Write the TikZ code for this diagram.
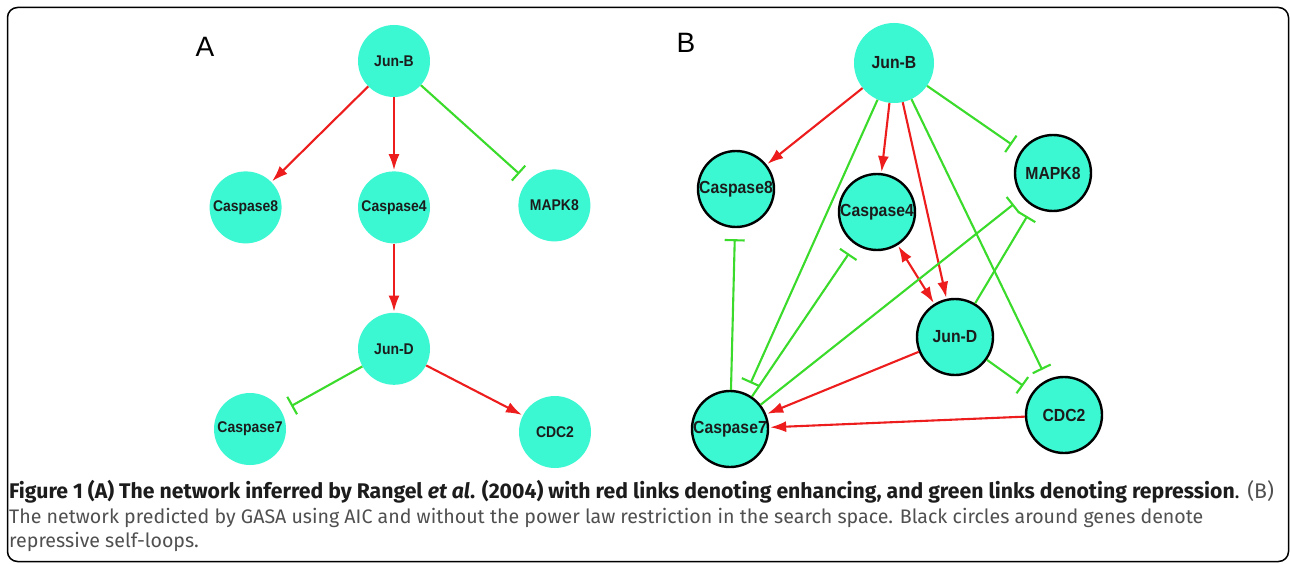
\documentclass[tikz,border=0pt]{standalone}
\usepackage{fontspec}
\setmainfont{Fira Sans}
\newfontfamily\genefont[FakeStretch=0.9]{Liberation Sans}
\newfontfamily\panelfont{Liberation Sans}
\usetikzlibrary{arrows.meta,positioning}
\definecolor{genecol}{HTML}{3BF7D2}
\definecolor{enhcol}{HTML}{EE1D1D}
\definecolor{repcol}{HTML}{3ADB2B}
\definecolor{capgrey}{HTML}{505050}
\definecolor{capdark}{HTML}{1C1C1C}

\begin{document}
\begin{tikzpicture}[x=1pt,y=-1pt,
  g/.style={circle,fill=genecol,minimum size=72pt,inner sep=0pt,text=capdark,
            font=\genefont\bfseries\fontsize{15.5}{15.5}\selectfont},
  gl/.style={g,draw=black,line width=2.4pt,minimum size=76pt,
             font=\genefont\bfseries\fontsize{17.5}{17.5}\selectfont},
  enh/.style={-{Latex[length=16pt,width=11pt]},line width=2.1pt,enhcol,shorten >=1pt},
  rep/.style={-{Bar[width=20pt,line width=2.1pt]},line width=2.1pt,repcol,shorten >=11pt},
  lab/.style={font=\panelfont\fontsize{28}{28}\selectfont,inner sep=0pt},
  captxt/.style={anchor=base west,inner sep=0pt,font=\fontsize{19.6}{24}\selectfont},
]
\useasboundingbox (0,0) rectangle (1290,564);
\fill[white] (0,0) rectangle (1290,564);
\draw[line width=1.5pt,rounded corners=10pt] (7.5,7.5) rectangle (1288.5,561.5);

% panel A
\node[lab] (labA) at (205,47) {A};
\node[g] (jbA) at (394,61) {Jun-B};
\node[g,below=74pt of jbA] (c4A) {Caspase4};
\node[g,left=76pt of c4A] (c8A) {Caspase8};
\node[g,right=88pt of c4A,yshift=2pt] (mkA) {MAPK8};
\node[g,below=69pt of c4A] (jdA) {Jun-D};
\node[g] (c7A) at (250,429) {Caspase7};
\node[g] (cdA) at (555,432) {CDC2};

\draw[enh] (jbA) -- (c8A);
\draw[enh] (jbA) -- (c4A);
\draw[rep] (jbA) -- (mkA);
\draw[enh] (c4A) -- (jdA);
\draw[rep] (jdA) -- (c7A);
\draw[enh] (jdA) -- (cdA);

% panel B
\node[lab] (labB) at (686,43) {B};
\node[g,minimum size=80pt,font=\genefont\bfseries\fontsize{17.5}{17.5}\selectfont] (jbB) at (894,63) {Jun-B};
\node[gl] (c8B) at (736,189) {Caspase8};
\node[gl] (c4B) at (877,212) {Caspase4};
\node[gl] (mkB) at (1053,173) {MAPK8};
\node[gl] (jdB) at (955,337) {Jun-D};
\node[gl] (c7B) at (730,429) {Caspase7};
\node[gl] (cdB) at (1064,415) {CDC2};

\draw[enh] (jbB) -- (c8B);
\draw[enh] (jbB) -- (c4B);
\draw[enh] (jbB) -- (jdB);
\draw[rep] (jbB) -- (mkB);
\draw[rep] (jbB) -- (c7B);
\draw[rep] (jbB) -- (cdB);
\draw[enh,{Latex[length=16pt,width=11pt]}-{Latex[length=16pt,width=11pt]},shorten <=1pt] (c4B) -- (jdB);
\draw[rep] (c7B) -- (c8B);
\draw[rep] (c7B) -- (c4B);
\draw[rep] (c7B) -- (mkB);
\draw[rep] (jdB) -- (mkB);
\draw[rep] (jdB) -- (cdB);
\draw[enh] (jdB) -- (c7B);
\draw[enh] (cdB) -- (c7B);

% caption
\node[captxt,text=capdark,font=\fontsize{21.2}{24}\selectfont] (cap1) at (9,498) {\textbf{Figure 1 (A) The network inferred by Rangel \textit{et al}. (2004) with red links denoting enhancing, and green links denoting repression}. \textcolor{capgrey}{(B)}};
\node[captxt,text=capgrey] (cap2) at (9,523) {The network predicted by GASA using AIC and without the power law restriction in the search space. Black circles around genes denote};
\node[captxt,text=capgrey] (cap3) at (9,547.5) {repressive self-loops.};
\end{tikzpicture}
\end{document}
